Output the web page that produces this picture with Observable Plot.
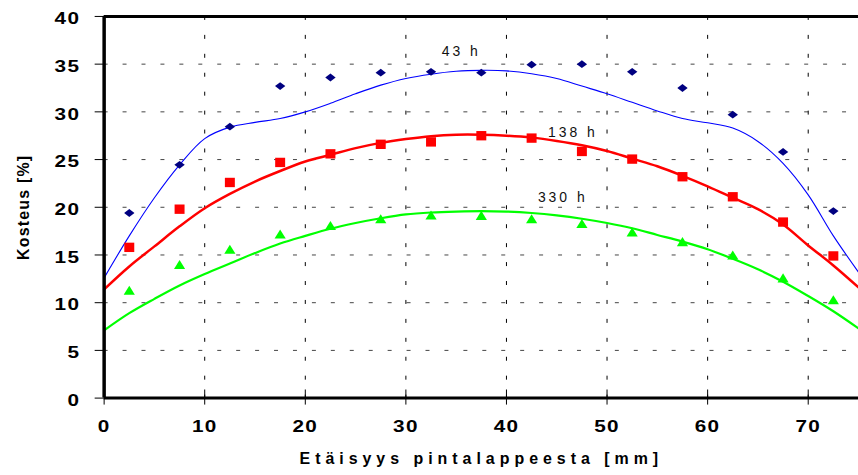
<!DOCTYPE html>
<html><head><meta charset="utf-8">
<script src="https://cdn.jsdelivr.net/npm/d3@7"></script>
<script src="https://cdn.jsdelivr.net/npm/@observablehq/plot@0.6"></script>
<style>
html,body{margin:0;padding:0;background:#fff;overflow:hidden;}
#dbg{position:absolute;left:300px;top:0;font:10px monospace;color:#c00;}
</style></head><body><div id="chart"></div><div id="dbg"></div>
<script>
// measured positions (mm)
const xPositions = [2.5, 7.5, 12.5, 17.5, 22.5, 27.5, 32.5, 37.5, 42.5, 47.5, 52.5, 57.5, 62.5, 67.5, 72.5];
const series43 = [19.4, 24.45, 28.45, 32.7, 33.6, 34.1, 34.2, 34.1, 34.95, 35.0, 34.2, 32.5, 29.7, 25.8, 19.6];
const series138 = [15.8, 19.8, 22.6, 24.7, 25.6, 26.6, 26.85, 27.5, 27.25, 25.85, 25.05, 23.2, 21.1, 18.45, 14.9];
const series330 = [11.2, 13.9, 15.5, 17.1, 18.0, 18.7, 19.1, 19.05, 18.7, 18.2, 17.3, 16.3, 14.9, 12.5, 10.2];

// fitted curves
const fitX = [0, 2.5, 5, 7.5, 10, 12.5, 15, 17.5, 20, 22.5, 25, 27.5, 30, 32.5, 35, 37.5, 40, 42.5, 45, 47.5, 50, 52.5, 55, 57.5, 60, 62.5, 65, 67.5, 70, 72.5, 75];
const fit43 = [12.6, 17.0, 21.0, 24.45, 27.2, 28.4, 28.9, 29.3, 30.0, 30.9, 31.9, 32.8, 33.5, 33.95, 34.25, 34.35, 34.3, 34.0, 33.5, 32.7, 31.9, 31.0, 30.1, 29.3, 28.85, 28.3, 26.9, 24.6, 21.3, 17.0, 13.2];
const fit138 = [11.4, 13.8, 15.9, 18.0, 19.9, 21.4, 22.7, 23.8, 24.8, 25.5, 26.2, 26.75, 27.15, 27.45, 27.6, 27.6, 27.5, 27.3, 26.95, 26.5, 25.9, 25.1, 24.3, 23.3, 22.2, 21.0, 19.8, 18.2, 16.0, 13.9, 11.6];
const fit330 = [7.1, 8.9, 10.4, 11.8, 13.0, 14.1, 15.2, 16.2, 17.0, 17.75, 18.35, 18.85, 19.25, 19.45, 19.55, 19.6, 19.55, 19.4, 19.15, 18.8, 18.35, 17.8, 17.1, 16.4, 15.6, 14.6, 13.5, 12.2, 10.7, 9.1, 7.3];

const seriesNames = ["43 h", "138 h", "330 h"];
const xTicks = [0, 10, 20, 30, 40, 50, 60, 70];
const yTicks = [0, 5, 10, 15, 20, 25, 30, 35, 40];
const xGrid = [10, 20, 30, 40, 50, 60, 70];
const yGrid = [5, 10, 15, 20, 25, 30, 35];
const xDomain = [0, 75];
const yDomain = [0, 40];
const xTitle = "Etäisyys pintalappeesta [mm]";
const yTitle = "Kosteus [%]";

const pts = (ys) => xPositions.map((x, i) => ({x, y: ys[i]}));
const fit = (ys) => fitX.map((x, i) => ({x, y: ys[i]}));

const diamond = {draw(c) { c.moveTo(-5.2, 0); c.lineTo(0, -3.9); c.lineTo(5.2, 0); c.lineTo(0, 3.9); c.closePath(); }};
const square = {draw(c) { c.moveTo(-5, -4.7); c.lineTo(5, -4.7); c.lineTo(5, 4.7); c.lineTo(-5, 4.7); c.closePath(); }};
const triangle = {draw(c) { c.moveTo(0, -5.5); c.lineTo(5.6, 3.6); c.lineTo(-5.6, 3.6); c.closePath(); }};

const FONT = "'Liberation Sans', Arial, Helvetica, sans-serif";

const chart = Plot.plot({
  width: 861, height: 475,
  marginLeft: 104, marginRight: 0, marginTop: 16, marginBottom: 76,
  style: {fontFamily: FONT, fontSize: "16px", fontWeight: "bold", background: "#fff", color: "#000"},
  x: {domain: xDomain, ticks: xTicks, tickSize: 7, tickPadding: 16, label: null, tickFormat: d => String(d)},
  y: {domain: yDomain, ticks: yTicks, tickSize: 9, tickPadding: 15, label: null, tickFormat: d => String(d)},
  marks: [
    Plot.ruleY(yGrid, {stroke: "#444", strokeWidth: 1, strokeDasharray: "4,15"}),
    Plot.ruleX(xGrid, {stroke: "#000", strokeWidth: 1, strokeDasharray: "4,15"}),
    Plot.line(fit(fit330), {x: "x", y: "y", stroke: "#00ff00", strokeWidth: 2.2, curve: "catmull-rom"}),
    Plot.line(fit(fit138), {x: "x", y: "y", stroke: "#ff0000", strokeWidth: 2.5, curve: "catmull-rom"}),
    Plot.line(fit(fit43), {x: "x", y: "y", stroke: "#0000ff", strokeWidth: 1.1, curve: "catmull-rom"}),
    Plot.dot(pts(series43), {x: "x", y: "y", symbol: diamond, fill: "#000080", stroke: "none"}),
    Plot.dot(pts(series138), {x: "x", y: "y", symbol: square, fill: "#ff0000", stroke: "none"}),
    Plot.dot(pts(series330), {x: "x", y: "y", symbol: triangle, fill: "#00ff00", stroke: "none"}),
    Plot.ruleX(xTicks, {y1: 0, y2: 0.85, stroke: "#000", strokeWidth: 1}),
    Plot.ruleY([yDomain[0], yDomain[1]], {stroke: "#000", strokeWidth: 3}),
    Plot.ruleX([xDomain[0]], {stroke: "#000", strokeWidth: 3.5}),
    Plot.text([seriesNames[0]], {x: 35.5, y: 35.9, text: d => d, fill: "#111", fontSize: 14, fontWeight: "normal", lineAnchor: "bottom"}),
    Plot.text([seriesNames[1]], {x: 46.6, y: 27.4, text: d => d, fill: "#111", fontSize: 14, fontWeight: "normal", lineAnchor: "bottom"}),
    Plot.text([seriesNames[2]], {x: 45.6, y: 20.55, text: d => d, fill: "#111", fontSize: 14, fontWeight: "normal", lineAnchor: "bottom"}),
    Plot.text([yTitle], {frameAnchor: "left", dx: -80.5, rotate: -90, text: d => d, fill: "#000", fontSize: 16, fontWeight: "bold", textAnchor: "middle", lineAnchor: "middle"}),
    Plot.text([xTitle], {frameAnchor: "bottom", dx: 0, dy: 66, text: d => d, fill: "#000", fontSize: 16, fontWeight: "bold", textAnchor: "middle", lineAnchor: "bottom"})
  ]
});
document.getElementById("chart").append(chart);
const svg = chart.tagName.toLowerCase() === "svg" ? chart : chart.querySelector("svg");

function wrapScale(t, scale, anchor, dy) {
  const g = document.createElementNS("http://www.w3.org/2000/svg", "g");
  t.parentNode.insertBefore(g, t); g.appendChild(t);
  const b = g.getBBox();
  const ax = anchor === "end" ? b.x + b.width : b.x + b.width / 2;
  g.setAttribute("transform", `translate(${ax},${dy}) scale(${scale},1) translate(${-ax},0)`);
}
try {
  const all = [...svg.querySelectorAll("text")];
  const yTickTexts = [], xTickTexts = [];
  const svgR = svg.getBoundingClientRect();
  all.forEach(t => {
    const s = t.textContent.trim();
    const r = t.getBoundingClientRect();
    if (s === xTitle) {
      t.style.letterSpacing = "5px"; t.style.fontSize = "16px"; t.style.fontWeight = "bold";
    } else if (s === yTitle) {
      t.style.letterSpacing = "1.2px"; t.style.fontSize = "16px"; t.style.fontWeight = "bold";
    } else if (seriesNames.includes(s)) {
      t.style.letterSpacing = "3px"; t.style.fontSize = "14px"; t.style.fontWeight = "normal";
    } else if (r.right - svgR.left < 104) {
      yTickTexts.push(t);
    } else if (r.top - svgR.top > 399) {
      xTickTexts.push(t);
    }
  });
  [...yTickTexts, ...xTickTexts].forEach(t => {
    t.style.fontFamily = FONT; t.style.fontSize = "16px"; t.style.fontWeight = "bold";
    t.style.letterSpacing = "1px"; t.style.fill = "#000";
  });
  yTickTexts.forEach(t => wrapScale(t, 1.3, "end", 2.7));
  xTickTexts.forEach(t => wrapScale(t, 1.3, "middle", 0));
} catch (e) {
  document.getElementById("dbg").textContent = String(e);
}
</script></body></html>
